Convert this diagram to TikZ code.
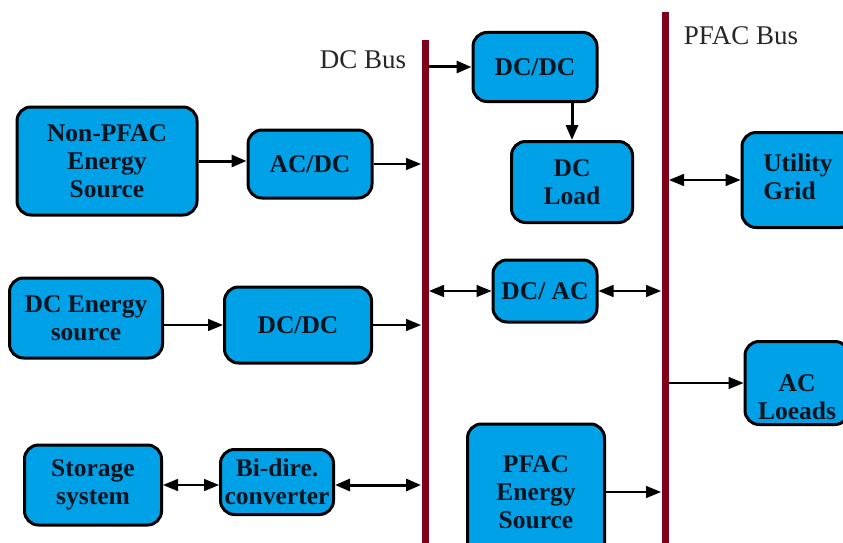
\documentclass[tikz,border=0pt]{standalone}
\usepackage{fontspec}
\setmainfont{Liberation Serif}
\usetikzlibrary{arrows.meta}
\definecolor{boxblue}{RGB}{0,161,230}
\definecolor{busred}{RGB}{128,0,28}
\definecolor{txt}{RGB}{10,20,30}
\tikzset{
  box/.style={draw=black, line width=3pt, fill=boxblue, rounded corners=14pt,
    align=center, inner sep=0pt, text=txt,
    font=\bfseries\fontsize{25.5}{28}\selectfont},
  busline/.style={draw=busred, line width=7pt},
  thinarr/.style={line width=1.4pt, -{Triangle[length=15pt,width=12pt]}},
  thickarr/.style={line width=3pt, -{Triangle[length=15pt,width=12pt]}},
  thinbi/.style={line width=1.4pt, {Triangle[length=15pt,width=12pt]}-{Triangle[length=15pt,width=12pt]}},
  thickbi/.style={line width=3pt, {Triangle[length=15pt,width=12pt]}-{Triangle[length=15pt,width=12pt]}},
  buslabel/.style={font=\fontsize{27}{30}\selectfont, text=black!85, inner sep=0pt}
}
\begin{document}
\begin{tikzpicture}[x=1pt,y=-1pt]
\useasboundingbox (0,0) rectangle (843,543);
% buses
\coordinate (dct) at (425,40);
\coordinate (dcb) at (425,560);
\coordinate (pft) at (665,12);
\coordinate (pfb) at (665,560);
\draw[busline] (dct) -- (dcb);
\draw[busline] (pft) -- (pfb);
\coordinate (dcL) at (421,0);
\coordinate (dcR) at (429,0);
\coordinate (pfL) at (661,0);
\coordinate (pfR) at (669,0);
\node[buslabel] (dclab) at (363,60) {DC Bus};
\node[buslabel] (pflab) at (741,36) {PFAC Bus};
% left column
\node[box, minimum width=180pt, minimum height=108pt] (npf) at (107,161) {Non-PFAC\\Energy\\Source};
\node[box, minimum width=124pt, minimum height=68pt] (acdc) at (310,164) {AC/DC};
\node[box, minimum width=153pt, minimum height=80pt] (dces) at (86,318) {DC Energy\\source};
\node[box, minimum width=147pt, minimum height=76pt] (dcdc2) at (298,325) {DC/DC};
\node[box, minimum width=137pt, minimum height=80pt] (stor) at (93,485) {Storage\\system};
\node[box, minimum width=113pt, minimum height=65pt] (bidir) at (277,482) {Bi-dire.\\converter};
% middle column
\node[box, minimum width=124pt, minimum height=69pt] (dcdc1) at (535,67) {DC/DC};
\node[box, minimum width=121pt, minimum height=81pt] (dcl) at (572,182) {DC\\Load};
\node[box, minimum width=104pt, minimum height=62pt] (dcac) at (545,291) {DC/ AC};
\node[box, minimum width=137pt, minimum height=136pt] (pfs) at (536,492) {PFAC\\Energy\\Source};
% right column
\node[box, minimum width=112pt, minimum height=95pt] (ug) at (798,180) {\begin{tabular}{@{}l@{}}Utility\\Grid\end{tabular}};
\node[box, minimum width=104pt, minimum height=83pt] (acl) at (797,383) {\rule{0pt}{46pt}AC\\Loeads};
% connectors
\draw[thickarr] (npf.east) -- (npf.east -| acdc.west);
\draw[thinarr] (acdc.east) -- (acdc.east -| dcL);
\draw[thinarr] (dces.east |- dcdc2.west) -- (dcdc2.west);
\draw[thinarr] (dcdc2.east) -- (dcdc2.east -| dcL);
\draw[thinbi] (stor.east) -- (stor.east -| bidir.west);
\draw[thickbi] (bidir.east |- stor.east) -- (stor.east -| dcL);
\draw[thickarr] (dcR |- dcdc1.west) -- (dcdc1.west);
\draw[thickarr] (dcl.north |- dcdc1.south) -- (dcl.north);
\draw[thinbi] (dcR |- dcac.west) -- (dcac.west);
\draw[thinbi] (dcac.east) -- (dcac.east -| pfL);
\draw[thinarr] (pfs.east) -- (pfs.east -| pfL);
\draw[thinbi] (pfR |- ug.west) -- (ug.west);
\draw[thinarr] (pfR |- acl.west) -- (acl.west);
\end{tikzpicture}
\end{document}
